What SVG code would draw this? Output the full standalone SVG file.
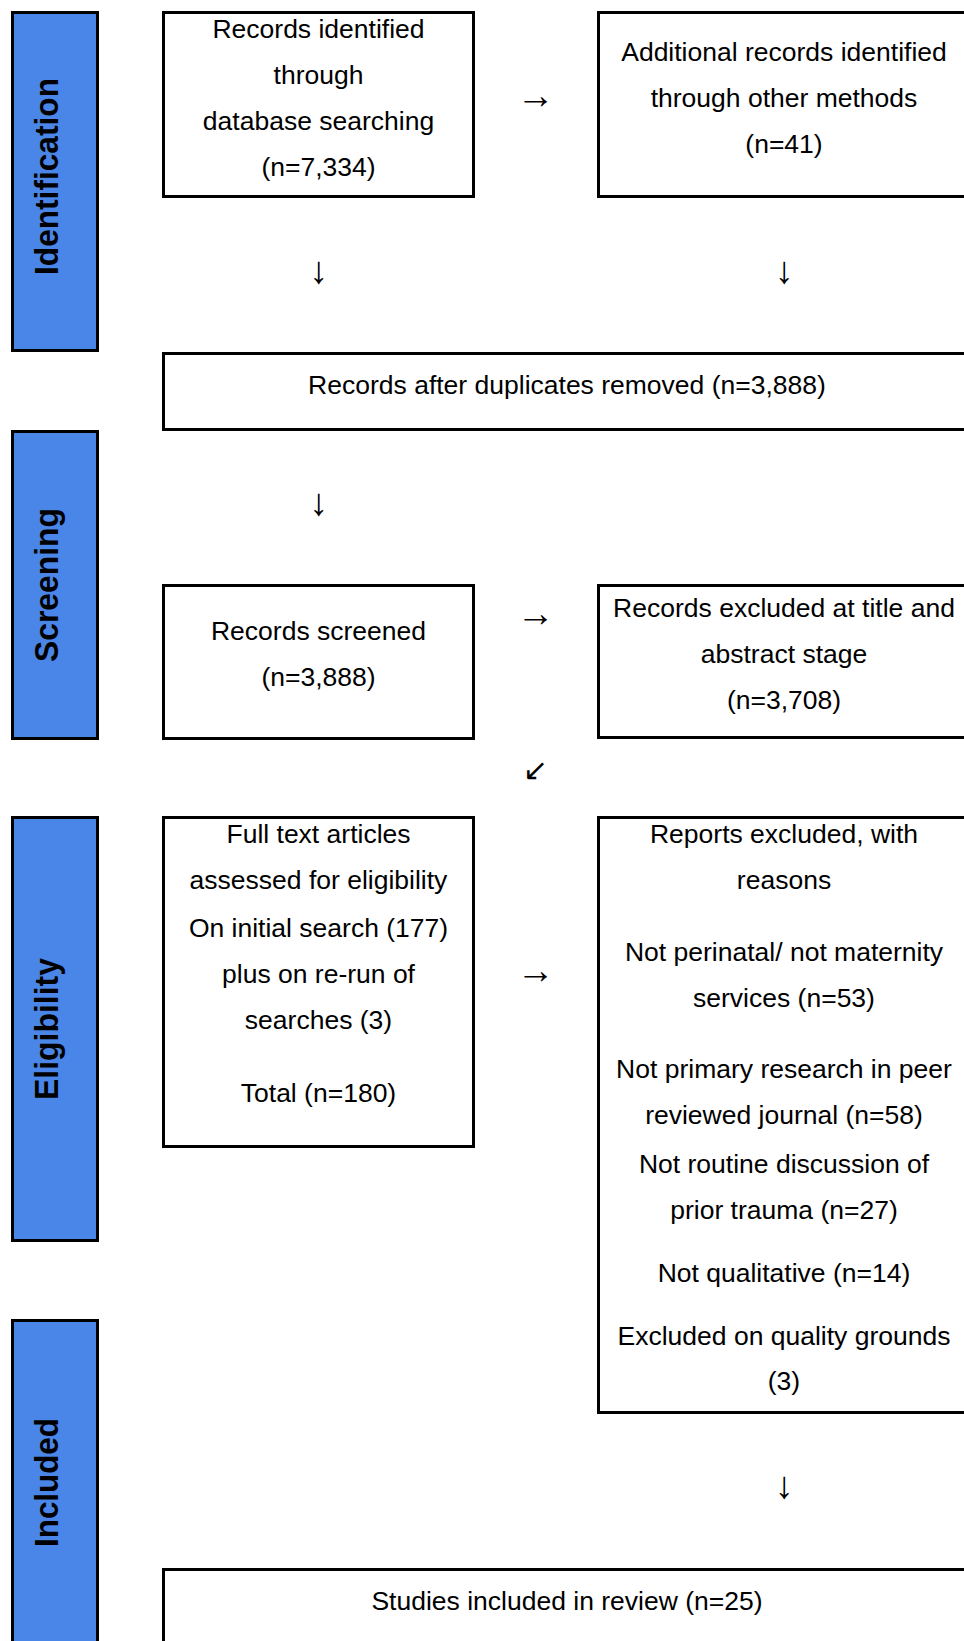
<svg xmlns="http://www.w3.org/2000/svg" width="964" height="1641" viewBox="0 0 964 1641">
<style>
.bar{fill:#4a86e8;stroke:#000;stroke-width:3}
.box{fill:#fff;stroke:#000;stroke-width:3}
.t{font-family:"Liberation Sans",Arial,sans-serif;font-size:26.5px;fill:#000;text-anchor:middle}
.lab{font-family:"Liberation Sans",Arial,sans-serif;font-size:33px;font-weight:bold;fill:#000;text-anchor:middle}
.arr{font-family:"Liberation Sans","DejaVu Sans",sans-serif;font-size:38px;fill:#000;text-anchor:middle}
.diag{font-size:30px}
</style>
<rect width="964" height="1641" fill="#fff"/>
<g id="phase-identification">
<rect class="bar" x="12.5" y="12.5" width="85" height="338"/>
<text class="lab" transform="translate(57.5,176.5) rotate(-90)" textLength="197" lengthAdjust="spacingAndGlyphs">Identification</text>
</g>
<g id="phase-screening">
<rect class="bar" x="12.5" y="431.5" width="85" height="307"/>
<text class="lab" transform="translate(57.5,585) rotate(-90)" textLength="154" lengthAdjust="spacingAndGlyphs">Screening</text>
</g>
<g id="phase-eligibility">
<rect class="bar" x="12.5" y="817.5" width="85" height="423"/>
<text class="lab" transform="translate(57.5,1029) rotate(-90)" textLength="142" lengthAdjust="spacingAndGlyphs">Eligibility</text>
</g>
<g id="phase-included">
<rect class="bar" x="12.5" y="1320.5" width="85" height="330"/>
<text class="lab" transform="translate(57.5,1482.5) rotate(-90)" textLength="129" lengthAdjust="spacingAndGlyphs">Included</text>
</g>
<g id="n-database">
<rect class="box" x="163.5" y="12.5" width="310" height="184"/>
<text class="t" x="318.5" y="38">Records identified</text>
<text class="t" x="318.5" y="84">through</text>
<text class="t" x="318.5" y="130">database searching</text>
<text class="t" x="318.5" y="176">(n=7,334)</text>
</g>
<g id="n-other">
<rect class="box" x="598.5" y="12.5" width="372" height="184"/>
<text class="t" x="784" y="61">Additional records identified</text>
<text class="t" x="784" y="107">through other methods</text>
<text class="t" x="784" y="153">(n=41)</text>
</g>
<g id="n-duplicates">
<rect class="box" x="163.5" y="353.5" width="807" height="76"/>
<text class="t" x="567" y="394">Records after duplicates removed (n=3,888)</text>
</g>
<g id="n-screened">
<rect class="box" x="163.5" y="585.5" width="310" height="153"/>
<text class="t" x="318.5" y="640">Records screened</text>
<text class="t" x="318.5" y="686">(n=3,888)</text>
</g>
<g id="n-excluded">
<rect class="box" x="598.5" y="585.5" width="372" height="152"/>
<text class="t" x="784" y="617">Records excluded at title and</text>
<text class="t" x="784" y="663">abstract stage</text>
<text class="t" x="784" y="709">(n=3,708)</text>
</g>
<g id="n-fulltext">
<rect class="box" x="163.5" y="817.5" width="310" height="329"/>
<text class="t" x="318.5" y="843">Full text articles</text>
<text class="t" x="318.5" y="889">assessed for eligibility</text>
<text class="t" x="318.5" y="937">On initial search (177)</text>
<text class="t" x="318.5" y="983">plus on re-run of</text>
<text class="t" x="318.5" y="1029">searches (3)</text>
<text class="t" x="318.5" y="1102">Total (n=180)</text>
</g>
<g id="n-reports">
<rect class="box" x="598.5" y="817.5" width="372" height="595"/>
<text class="t" x="784" y="843">Reports excluded, with</text>
<text class="t" x="784" y="889">reasons</text>
<text class="t" x="784" y="961">Not perinatal/ not maternity</text>
<text class="t" x="784" y="1007">services (n=53)</text>
<text class="t" x="784" y="1078">Not primary research in peer</text>
<text class="t" x="784" y="1124">reviewed journal (n=58)</text>
<text class="t" x="784" y="1173">Not routine discussion of</text>
<text class="t" x="784" y="1219">prior trauma (n=27)</text>
<text class="t" x="784" y="1282">Not qualitative (n=14)</text>
<text class="t" x="784" y="1345">Excluded on quality grounds</text>
<text class="t" x="784" y="1390">(3)</text>
</g>
<g id="n-studies">
<rect class="box" x="163.5" y="1569.5" width="807" height="100"/>
<text class="t" x="567" y="1610">Studies included in review (n=25)</text>
</g>
<g id="connectors">
<text class="arr" x="535.5" y="108">→</text>
<text class="arr" x="318.5" y="283">↓</text>
<text class="arr" x="784" y="283">↓</text>
<text class="arr" x="318.5" y="515">↓</text>
<text class="arr" x="535.5" y="626">→</text>
<text class="arr diag" x="535.5" y="780">↙</text>
<text class="arr" x="535.5" y="983">→</text>
<text class="arr" x="784" y="1498">↓</text>
</g>
</svg>
